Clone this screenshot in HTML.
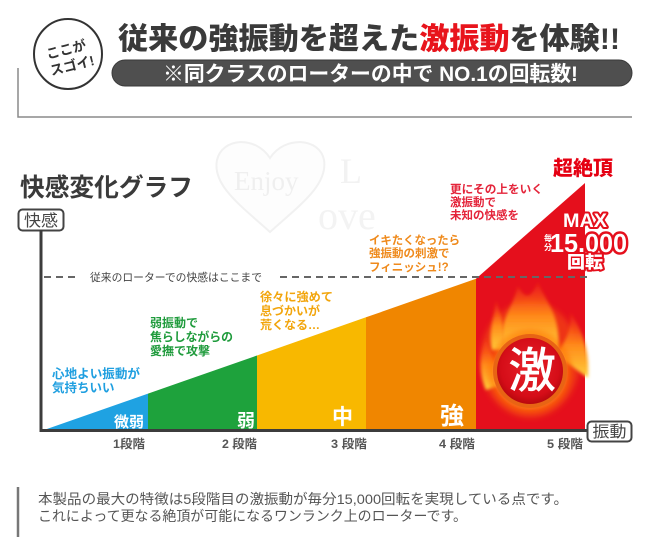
<!DOCTYPE html>
<html><head><meta charset="utf-8">
<style>
html,body{margin:0;padding:0;background:#fff;}
svg{display:block;}
text{font-family:"Liberation Sans","Noto Sans CJK JP",sans-serif;}
</style></head>
<body>
<svg width="650" height="558" viewBox="0 0 650 558" xmlns="http://www.w3.org/2000/svg">
<defs>
  <radialGradient id="glow" cx="0.5" cy="0.5" r="0.5">
    <stop offset="0.55" stop-color="#ffd23c" stop-opacity="1"/>
    <stop offset="0.75" stop-color="#ff8c14" stop-opacity="0.9"/>
    <stop offset="1" stop-color="#ff5000" stop-opacity="0"/>
  </radialGradient>
  <radialGradient id="disc" cx="0.5" cy="0.45" r="0.55">
    <stop offset="0" stop-color="#e8222a"/>
    <stop offset="0.8" stop-color="#d50d18"/>
    <stop offset="1" stop-color="#b8080e"/>
  </radialGradient>
  <linearGradient id="flame" x1="0" y1="1" x2="0" y2="0">
    <stop offset="0" stop-color="#ffcf3a"/>
    <stop offset="0.5" stop-color="#ff8a1a"/>
    <stop offset="1" stop-color="#ff4a10" stop-opacity="0.2"/>
  </linearGradient>
  <filter id="soft" x="-20%" y="-20%" width="140%" height="140%"><feGaussianBlur stdDeviation="1.6"/></filter>
  <filter id="soft2" x="-20%" y="-20%" width="140%" height="140%"><feGaussianBlur stdDeviation="3"/></filter>
</defs>

<!-- header bracket line -->
<polyline points="18,68 18,117 632,117" fill="none" stroke="#8a8a8a" stroke-width="1.5"/>

<!-- circle badge -->
<ellipse cx="68" cy="54" rx="34" ry="35" fill="#fff" stroke="#333" stroke-width="2"/>
<g transform="rotate(-14 68 57)" fill="#333" font-weight="700" font-size="13.5" text-anchor="middle">
  <text x="68" y="54">ここが</text>
  <text x="70" y="71">スゴイ!</text>
</g>

<!-- title -->
<text x="118" y="49" font-size="30" font-weight="900" fill="#3a3a3a" textLength="502" lengthAdjust="spacingAndGlyphs">従来の強振動を超えた<tspan fill="#e8141c">激振動</tspan>を体験!!</text>

<!-- pill -->
<rect x="112" y="60" width="520" height="26" rx="13" fill="#4f4f4f" stroke="#3a3a3a" stroke-width="1"/>
<text x="163" y="81" font-size="21" font-weight="700" fill="#fff" textLength="415" lengthAdjust="spacingAndGlyphs">※同クラスのローターの中で NO.1の回転数!</text>

<!-- watermark -->
<path d="M270 232 C 240 205, 212 185, 217 160 C 222 138, 255 135, 270 158 C 285 135, 320 138, 324 160 C 328 185, 300 205, 270 232 Z" fill="#fdfdfd" stroke="#f1f1f1" stroke-width="2"/>
<text x="234" y="190" style="font-family:'Liberation Serif',serif" font-size="27" fill="#efefef">Enjoy</text>
<text x="340" y="183" style="font-family:'Liberation Serif',serif" font-size="36" fill="#f2f2f2">L</text>
<text x="318" y="229" style="font-family:'Liberation Serif',serif" font-size="40" fill="#f3f3f3">ove</text>

<!-- chart title -->
<text x="20" y="196" font-size="25" font-weight="700" fill="#3a3a3a" textLength="173" lengthAdjust="spacingAndGlyphs">快感変化グラフ</text>

<!-- y label box -->
<rect x="18.5" y="209.5" width="45" height="21" rx="4" fill="#fff" stroke="#444" stroke-width="2"/>
<text x="41" y="226" font-size="16" fill="#444" text-anchor="middle" textLength="34" lengthAdjust="spacingAndGlyphs">快感</text>

<!-- bars -->
<polygon points="44,430 148,430 148,393.6" fill="#1fa2e2"/>
<polygon points="148,430 148,393.6 257,355.5 257,430" fill="#1ea23c"/>
<polygon points="257,430 257,355.5 366,317.3 366,430" fill="#f8b800"/>
<polygon points="366,430 366,317.3 476,278.8 476,430" fill="#f08600"/>
<polygon points="476,430 476,278.8 585,183 585,430" fill="#e50f1c"/>

<!-- fire -->
<g>
  <ellipse cx="530" cy="360" rx="50" ry="58" fill="#ff7a10" opacity="0.35" filter="url(#soft2)"/>
  <path d="M503 350 C 496 325, 512 310, 518 286 C 526 302, 532 296, 538 282 C 544 300, 562 315, 558 350 Z" fill="url(#flame)" filter="url(#soft)"/>
  <path d="M492 350 C 488 332, 494 318, 496 300 C 502 318, 506 330, 504 350 Z" fill="url(#flame)" filter="url(#soft)"/>
  <path d="M556 355 C 566 340, 572 330, 570 312 C 582 330, 590 350, 588 378 Z" fill="url(#flame)" filter="url(#soft)"/>
  <path d="M486 390 C 478 372, 480 352, 486 338 C 492 356, 498 370, 500 385 Z" fill="url(#flame)" filter="url(#soft)"/>
  <circle cx="530" cy="372" r="45" fill="url(#glow)" filter="url(#soft)"/>
  <circle cx="530" cy="371" r="37" fill="#e86414"/>
  <circle cx="530" cy="371" r="33" fill="url(#disc)"/>
  <text x="532" y="387" font-size="48" font-weight="500" fill="#fff" text-anchor="middle">激</text>
</g>

<!-- dashed limit line -->
<line x1="44" y1="277" x2="80" y2="277" stroke="#666" stroke-width="2" stroke-dasharray="7 5"/>
<line x1="280" y1="277" x2="589" y2="277" stroke="#666" stroke-width="2" stroke-dasharray="7 5"/>
<text x="90" y="281" font-size="11" fill="#444" textLength="172" lengthAdjust="spacingAndGlyphs">従来のローターでの快感はここまで</text>

<!-- axes -->
<line x1="41" y1="230" x2="41" y2="431" stroke="#3c3c3c" stroke-width="3"/>
<line x1="39.5" y1="430.5" x2="588" y2="430.5" stroke="#3c3c3c" stroke-width="3"/>

<!-- x label box -->
<rect x="587.5" y="421.5" width="44" height="20" rx="4" fill="#fff" stroke="#444" stroke-width="2"/>
<text x="609.5" y="437" font-size="16" fill="#444" text-anchor="middle" textLength="34" lengthAdjust="spacingAndGlyphs">振動</text>

<!-- segment labels -->
<g fill="#fff" font-weight="700" text-anchor="end">
  <text x="144" y="427" font-size="15">微弱</text>
  <text x="255" y="427" font-size="18">弱</text>
  <text x="353" y="424" font-size="21">中</text>
  <text x="464" y="424" font-size="24">強</text>
</g>

<!-- tick labels -->
<g fill="#555" font-size="12" font-weight="700" text-anchor="end">
  <text x="145" y="448" textLength="32" lengthAdjust="spacingAndGlyphs">1段階</text>
  <text x="257" y="448" textLength="35" lengthAdjust="spacingAndGlyphs">2 段階</text>
  <text x="367" y="448" textLength="36" lengthAdjust="spacingAndGlyphs">3 段階</text>
  <text x="475" y="448" textLength="36" lengthAdjust="spacingAndGlyphs">4 段階</text>
  <text x="583" y="448" textLength="36" lengthAdjust="spacingAndGlyphs">5 段階</text>
</g>

<!-- annotations -->
<g font-size="12.5" font-weight="700" fill="#1f9fe0">
  <text x="52" y="378" textLength="88" lengthAdjust="spacingAndGlyphs">心地よい振動が</text>
  <text x="52" y="392">気持ちいい</text>
</g>
<g font-size="12" font-weight="700" fill="#1f9b3c">
  <text x="150" y="327">弱振動で</text>
  <text x="150" y="341" textLength="83" lengthAdjust="spacingAndGlyphs">焦らしながらの</text>
  <text x="150" y="355">愛撫で攻撃</text>
</g>
<g font-size="12" font-weight="700" fill="#f2a50c">
  <text x="260" y="301" textLength="73" lengthAdjust="spacingAndGlyphs">徐々に強めて</text>
  <text x="260" y="315">息づかいが</text>
  <text x="260" y="329">荒くなる…</text>
</g>
<g font-size="11.5" font-weight="700" fill="#ef8a1c">
  <text x="369" y="244" textLength="91" lengthAdjust="spacingAndGlyphs">イキたくなったら</text>
  <text x="369" y="257">強振動の刺激で</text>
  <text x="369" y="271">フィニッシュ!?</text>
</g>
<g font-size="11.5" font-weight="700" fill="#e4243a">
  <text x="450" y="193" textLength="93" lengthAdjust="spacingAndGlyphs">更にその上をいく</text>
  <text x="450" y="206">激振動で</text>
  <text x="450" y="219">未知の快感を</text>
</g>

<!-- peak labels -->
<text x="553" y="175" font-size="20" font-weight="900" fill="#e50012" textLength="60" lengthAdjust="spacingAndGlyphs">超絶頂</text>
<g font-weight="900" fill="#fff" stroke="#e50f1c" stroke-linejoin="round" style="paint-order:stroke">
  <text x="585" y="227" font-size="19" stroke-width="4" text-anchor="middle" textLength="44" lengthAdjust="spacingAndGlyphs">MAX</text>
  <text x="550" y="252" font-size="26" stroke-width="5" textLength="77" lengthAdjust="spacingAndGlyphs">15,000</text>
  <text x="585" y="268" font-size="17" stroke-width="4" text-anchor="middle" textLength="36" lengthAdjust="spacingAndGlyphs">回転</text>
</g>
<g font-size="8" font-weight="700" fill="#fff" text-anchor="middle">
  <text x="548" y="241">毎</text>
  <text x="548" y="250">分</text>
</g>

<!-- bottom note -->
<line x1="18" y1="487" x2="18" y2="537" stroke="#777" stroke-width="2.5"/>
<g font-size="14" fill="#555">
  <text x="38" y="504" textLength="530" lengthAdjust="spacingAndGlyphs">本製品の最大の特徴は5段階目の激振動が毎分15,000回転を実現している点です。</text>
  <text x="38" y="521" textLength="429" lengthAdjust="spacingAndGlyphs">これによって更なる絶頂が可能になるワンランク上のローターです。</text>
</g>
</svg>
</body></html>
